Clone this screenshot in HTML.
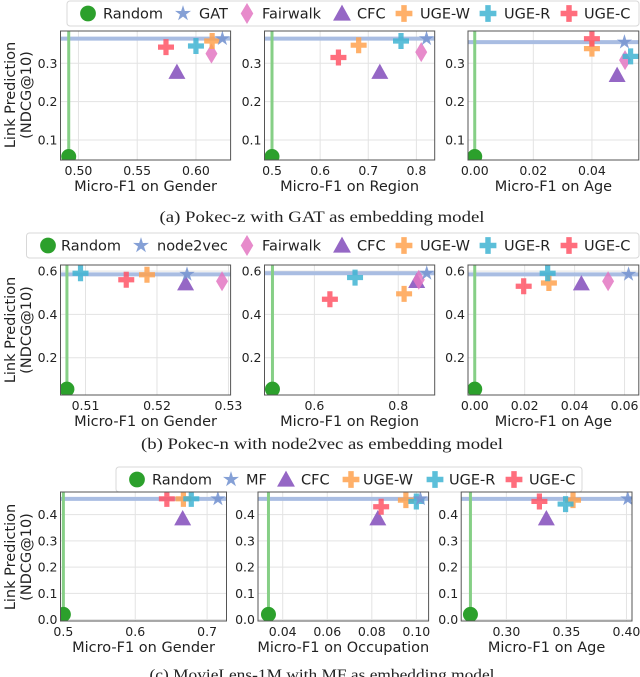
<!DOCTYPE html>
<html><head><meta charset="utf-8"><style>
html,body{margin:0;padding:0;background:#fff;}
svg{display:block;}
</style></head><body>
<svg id="fig" width="640" height="677" viewBox="0 0 640 677" xmlns="http://www.w3.org/2000/svg" font-family="'DejaVu Sans', 'Liberation Sans', sans-serif"></svg>
<script>
// ---- Data: Pokec-z with GAT ----
const pokecZMethods = ['Random','GAT','Fairwalk','CFC','UGE-W','UGE-R','UGE-C'];
const pokecZGenderX = [0.4917,0.6225,0.6132,0.5838,0.6138,0.600,0.5745];
const pokecZGenderY = [0.057,0.364,0.325,0.277,0.358,0.345,0.342];
const pokecZRegionX = [0.500,0.821,0.810,0.724,0.680,0.768,0.638];
const pokecZRegionY = [0.057,0.364,0.329,0.277,0.347,0.358,0.315];
const pokecZAgeX = [0.000,0.0511,0.0513,0.0486,0.0400,0.0532,0.0400];
const pokecZAgeY = [0.057,0.355,0.308,0.269,0.338,0.318,0.364];
const pokecZYTicks = [0.1,0.2,0.3];
const pokecZGenderTicks = [0.50,0.55,0.60];
const pokecZRegionTicks = [0.5,0.6,0.7,0.8];
const pokecZAgeTicks = [0.00,0.02,0.04];
// ---- Data: Pokec-n with node2vec ----
const pokecNMethods = ['Random','node2vec','Fairwalk','CFC','UGE-W','UGE-R','UGE-C'];
const pokecNGenderX = [0.5074,0.5242,0.5291,0.5240,0.5186,0.5093,0.5157];
const pokecNGenderY = [0.055,0.585,0.553,0.542,0.583,0.590,0.560];
const pokecNRegionX = [0.500,0.868,0.849,0.844,0.814,0.697,0.637];
const pokecNRegionY = [0.055,0.590,0.560,0.553,0.495,0.570,0.470];
const pokecNAgeX = [0.000,0.0616,0.0534,0.0427,0.0297,0.0292,0.0196];
const pokecNAgeY = [0.055,0.585,0.553,0.542,0.545,0.590,0.530];
const pokecNYTicks = [0.2,0.4,0.6];
const pokecNGenderTicks = [0.51,0.52,0.53];
const pokecNRegionTicks = [0.6,0.8];
const pokecNAgeTicks = [0.00,0.02,0.04,0.06];
// ---- Data: MovieLens-1M with MF ----
const movieMethods = ['Random','MF','CFC','UGE-W','UGE-R','UGE-C'];
const movieGenderX = [0.500,0.715,0.666,0.667,0.678,0.644];
const movieGenderY = [0.020,0.460,0.385,0.460,0.460,0.460];
const movieOccX = [0.0336,0.1018,0.0827,0.0953,0.1000,0.0842];
const movieOccY = [0.020,0.460,0.385,0.455,0.450,0.430];
const movieAgeX = [0.2701,0.4011,0.3333,0.3555,0.3493,0.3275];
const movieAgeY = [0.020,0.460,0.385,0.455,0.440,0.450];
const movieYTicks = [0.0,0.1,0.2,0.3,0.4];
const movieGenderTicks = [0.5,0.6,0.7];
const movieOccTicks = [0.04,0.06,0.08,0.10];
const movieAgeTicks = [0.30,0.35,0.40];

const NS='http://www.w3.org/2000/svg';
const svg=document.getElementById('fig');
function mk(tag,attrs,parent){const e=document.createElementNS(NS,tag);for(const k in attrs)e.setAttribute(k,attrs[k]);(parent||svg).appendChild(e);return e;}

const styles={
 'Random':{shape:'circle',fill:'#2ca02c',op:1},
 'GAT':{shape:'star',fill:'#7896d2',op:0.9},
 'node2vec':{shape:'star',fill:'#7896d2',op:0.9},
 'MF':{shape:'star',fill:'#7896d2',op:0.9},
 'Fairwalk':{shape:'diamond',fill:'#e377c2',op:0.85},
 'CFC':{shape:'triangle',fill:'#8f5fc2',op:0.95},
 'UGE-W':{shape:'plus',fill:'#ffa24f',op:0.85},
 'UGE-R':{shape:'plus',fill:'#3fb4d2',op:0.85},
 'UGE-C':{shape:'plus',fill:'#ff5566',op:0.85}
};
function marker(g,method,cx,cy,scale){
 const s=styles[method];scale=scale||1;let el;
 if(s.shape==='circle'){el=mk('circle',{cx:cx,cy:cy,r:7.5*scale,fill:s.fill,'fill-opacity':s.op},g);}
 else if(s.shape==='star'){let p=[];for(let i=0;i<10;i++){const r=(i%2?3:8)*scale;const a=-Math.PI/2+i*Math.PI/5;p.push((cx+r*Math.cos(a)).toFixed(2)+','+(cy+r*Math.sin(a)).toFixed(2));}
  el=mk('polygon',{points:p.join(' '),fill:s.fill,'fill-opacity':s.op},g);}
 else if(s.shape==='diamond'){const w=6*scale,h=10*scale;el=mk('polygon',{points:`${cx},${cy-h} ${cx+w},${cy} ${cx},${cy+h} ${cx-w},${cy}`,fill:s.fill,'fill-opacity':s.op},g);}
 else if(s.shape==='triangle'){const w=8.5*scale,h=8.5*scale;el=mk('polygon',{points:`${cx},${cy-h} ${cx+w},${cy+h*0.8} ${cx-w},${cy+h*0.8}`,fill:s.fill,'fill-opacity':s.op},g);}
 else {const a=8*scale,t=2.6*scale;el=mk('path',{d:`M${cx-t},${cy-a}H${cx+t}V${cy-t}H${cx+a}V${cy+t}H${cx+t}V${cy+a}H${cx-t}V${cy+t}H${cx-a}V${cy-t}H${cx-t}Z`,fill:s.fill,'fill-opacity':s.op},g);}
 return el;
}

function legend(items,x0,y0,x1,y1,pos){
 const g=mk('g',{});
 
 
 mk('rect',{x:x0,y:y0,width:x1-x0,height:y1-y0,rx:3,fill:'#fff',stroke:'#d8d8d8','stroke-width':1},g);
 const cy=(y0+y1)/2;
 items.forEach((m,i)=>{
  const eg=mk('g',{},g);
  
  
  marker(eg,m,pos[i][0],cy,1.05);
  const t=mk('text',{x:pos[i][1],y:cy+5,'font-size':14.5,fill:'#222'},eg);t.textContent=m;
 });
}

function panel(p){
 const g=mk('g',{});
 
 
 const sx=v=>p.x0+(v-p.xd[0])/(p.xd[1]-p.xd[0])*(p.x1-p.x0);
 const sy=v=>p.y1-(v-p.yd[0])/(p.yd[1]-p.yd[0])*(p.y1-p.y0);
 mk('rect',{x:p.x0,y:p.y0,width:p.x1-p.x0,height:p.y1-p.y0,fill:'#fff'},g);
 const cp='clip-'+p.name;
 const c=mk('clipPath',{id:cp},g);mk('rect',{x:p.x0,y:p.y0,width:p.x1-p.x0,height:p.y1-p.y0},c);
 p.xt.forEach(v=>{const x=sx(v);mk('line',{x1:x,x2:x,y1:p.y0,y2:p.y1,stroke:'#e3e3e3','stroke-width':1},g);
  const t=mk('text',{x:x,y:p.y1+15,'font-size':12.5,'text-anchor':'middle',fill:'#222'},g);t.textContent=v.toFixed(p.xdp);});
 p.yt.forEach(v=>{const y=sy(v);mk('line',{x1:p.x0,x2:p.x1,y1:y,y2:y,stroke:'#e3e3e3','stroke-width':1},g);
  const t=mk('text',{x:p.x0-3,y:y+4.5,'font-size':12.5,'text-anchor':'end',fill:'#222'},g);t.textContent=v.toFixed(1);});
 const pg=mk('g',{'clip-path':'url(#'+cp+')'},g);
 const hl=mk('line',{x1:p.x0,x2:p.x1,y1:sy(p.ys[1]),y2:sy(p.ys[1]),stroke:'#a9bde2','stroke-width':4},pg);
 
 
 const vl=mk('line',{x1:sx(p.xs[0]),x2:sx(p.xs[0]),y1:p.y0,y2:p.y1,stroke:'#86cf86','stroke-width':3},pg);
 
 
 const order=[0,3,2,4,5,6,1].filter(i=>i<p.methods.length);
 const ord=p.methods.length===6?[0,2,3,4,5,1]:order;
 ord.forEach(i=>{const m=marker(pg,p.methods[i],sx(p.xs[i]),sy(p.ys[i]),1);
  
  });
 mk('rect',{x:p.x0,y:p.y0,width:p.x1-p.x0,height:p.y1-p.y0,fill:'none',stroke:'#555','stroke-width':1},g);
 const xl=mk('text',{x:(p.x0+p.x1)/2,y:p.y1+31,'font-size':14.5,'text-anchor':'middle',fill:'#222'},g);
 
 
 xl.textContent=p.xlabel;
}

function ylabel(cy){
 const g=mk('g',{});
 
 
 const t1=mk('text',{x:0,y:0,'font-size':14.5,'text-anchor':'middle',fill:'#222',transform:`translate(15,${cy}) rotate(-90)`},g);t1.textContent='Link Prediction';
 const t2=mk('text',{x:0,y:0,'font-size':14.5,'text-anchor':'middle',fill:'#222',transform:`translate(31,${cy}) rotate(-90)`},g);t2.textContent='(NDCG@10)';
}
function caption(txt,x,y,w,name){
 const t=mk('text',{x:x-w/2,y:y,'font-size':16,textLength:w,lengthAdjust:'spacingAndGlyphs',fill:'#222','font-family':"'Liberation Serif', serif"});
 
 
 t.textContent=txt;
}

const PX=[[60.5,230.6],[264.5,434.7],[468,638.8]];
const PX3=[[60.5,226.5],[258,428.6],[461.2,632]];
// Row 1
legend(pokecZMethods,67,1,639,26,[[88,103],[183,199],[247,262],[342,357],[404,420],[488,504],[569,584]]);
panel({name:'pokecz-gender',methods:pokecZMethods,xs:pokecZGenderX,ys:pokecZGenderY,x0:PX[0][0],x1:PX[0][1],y0:31,y1:160,xd:[0.4847,0.6295],yd:[0.048,0.384],xt:pokecZGenderTicks,xdp:2,yt:pokecZYTicks,xlabel:'Micro-F1 on Gender'});
panel({name:'pokecz-region',methods:pokecZMethods,xs:pokecZRegionX,ys:pokecZRegionY,x0:PX[1][0],x1:PX[1][1],y0:31,y1:160,xd:[0.4844,0.838],yd:[0.048,0.384],xt:pokecZRegionTicks,xdp:1,yt:pokecZYTicks,xlabel:'Micro-F1 on Region'});
panel({name:'pokecz-age',methods:pokecZMethods,xs:pokecZAgeX,ys:pokecZAgeY,x0:PX[2][0],x1:PX[2][1],y0:31,y1:160,xd:[-0.0023,0.056],yd:[0.048,0.384],xt:pokecZAgeTicks,xdp:2,yt:pokecZYTicks,xlabel:'Micro-F1 on Age'});
ylabel(95);
caption('(a) Pokec-z with GAT as embedding model',322,222,325,'caption-a');
// Row 2
legend(pokecNMethods,26.5,233,639,258,[[48,61],[141,157],[247,262],[342,357],[404,420],[488,504],[569,584]]);
panel({name:'pokecn-gender',methods:pokecNMethods,xs:pokecNGenderX,ys:pokecNGenderY,x0:PX[0][0],x1:PX[0][1],y0:265,y1:395,xd:[0.5065,0.5303],yd:[0.028,0.628],xt:pokecNGenderTicks,xdp:2,yt:pokecNYTicks,xlabel:'Micro-F1 on Gender'});
panel({name:'pokecn-region',methods:pokecNMethods,xs:pokecNRegionX,ys:pokecNRegionY,x0:PX[1][0],x1:PX[1][1],y0:265,y1:395,xd:[0.481,0.887],yd:[0.028,0.628],xt:pokecNRegionTicks,xdp:1,yt:pokecNYTicks,xlabel:'Micro-F1 on Region'});
panel({name:'pokecn-age',methods:pokecNMethods,xs:pokecNAgeX,ys:pokecNAgeY,x0:PX[2][0],x1:PX[2][1],y0:265,y1:395,xd:[-0.0027,0.0657],yd:[0.028,0.628],xt:pokecNAgeTicks,xdp:2,yt:pokecNYTicks,xlabel:'Micro-F1 on Age'});
ylabel(330);
caption('(b) Pokec-n with node2vec as embedding model',322,449,362,'caption-b');
// Row 3
legend(movieMethods,116,467,582,492,[[137,152],[231,246],[286,301],[351,363],[435,449],[514,529]]);
panel({name:'movielens-gender',methods:movieMethods,xs:movieGenderX,ys:movieGenderY,x0:PX3[0][0],x1:PX3[0][1],y0:492,y1:621,xd:[0.496,0.727],yd:[-0.005,0.486],xt:movieGenderTicks,xdp:1,yt:movieYTicks,xlabel:'Micro-F1 on Gender'});
panel({name:'movielens-occupation',methods:movieMethods,xs:movieOccX,ys:movieOccY,x0:PX3[1][0],x1:PX3[1][1],y0:492,y1:621,xd:[0.0289,0.1055],yd:[-0.005,0.486],xt:movieOccTicks,xdp:2,yt:movieYTicks,xlabel:'Micro-F1 on Occupation'});
panel({name:'movielens-age',methods:movieMethods,xs:movieAgeX,ys:movieAgeY,x0:PX3[2][0],x1:PX3[2][1],y0:492,y1:621,xd:[0.2624,0.4046],yd:[-0.005,0.486],xt:movieAgeTicks,xdp:2,yt:movieYTicks,xlabel:'Micro-F1 on Age'});
ylabel(557);
caption('(c) MovieLens-1M with MF as embedding model',322,680,345,'caption-c');
</script>
</body></html>
